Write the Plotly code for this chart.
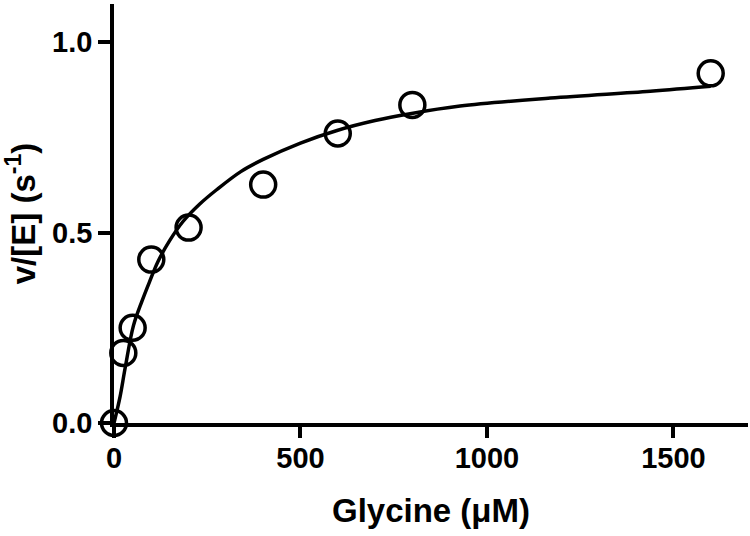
import plotly.graph_objects as go

# Measured data (Glycine concentration in µM, v/[E] in s^-1)
glycine_uM = [0, 25, 50, 100, 200, 400, 600, 800, 1600]
rate = [0.0, 0.184, 0.25, 0.429, 0.513, 0.626, 0.76, 0.835, 0.918]

# Fitted curve
fit_x = [0, 16, 30, 52, 75, 95, 118, 150, 185, 230, 276, 340, 400, 500, 598, 700, 794, 928, 1170, 1438, 1600]
fit_y = [0.0, 0.068, 0.145, 0.255, 0.32, 0.37, 0.424, 0.48, 0.529, 0.575, 0.613, 0.66, 0.692, 0.735, 0.768, 0.794, 0.812, 0.832, 0.853, 0.871, 0.884]

x_ticks = [0, 500, 1000, 1500]
y_ticks = [0.0, 0.5, 1.0]
y_tick_text = ["0.0", "0.5", "1.0"]

FONT = "Liberation Sans, Arial, Helvetica, sans-serif"

fig = go.Figure()
fig.add_trace(go.Scatter(
    x=fit_x, y=fit_y, mode="lines",
    line=dict(color="black", width=3.5, shape="spline", smoothing=1.0),
    showlegend=False, hoverinfo="skip", cliponaxis=False,
))
fig.add_trace(go.Scatter(
    x=glycine_uM, y=rate, mode="markers",
    marker=dict(symbol="circle-open", size=25, color="black", line=dict(width=3.5, color="black")),
    showlegend=False, cliponaxis=False,
))

fig.update_layout(
    width=750, height=536,
    margin=dict(l=114, r=2, t=4, b=113),
    paper_bgcolor="white", plot_bgcolor="white",
    font=dict(family=FONT, color="black", size=29, weight="bold"),
    xaxis=dict(
        range=[0, 1700], tickvals=x_ticks, ticks="outside", ticklen=11, tickwidth=3.5,
        tickcolor="black", showline=True, linecolor="black", linewidth=3.5,
        showgrid=False, zeroline=False, automargin=False,
        tickfont=dict(family=FONT, size=29, weight="bold"),
        ticklabelstandoff=-5,
        title=dict(text="Glycine (μM)", font=dict(family=FONT, size=33, weight="bold"), standoff=27),
    ),
    yaxis=dict(
        range=[0, 1.1], tickvals=y_ticks, ticktext=y_tick_text, ticks="outside", ticklen=12, tickwidth=3.5,
        tickcolor="black", showline=True, linecolor="black", linewidth=3.5,
        showgrid=False, zeroline=False, automargin=False,
        tickfont=dict(family=FONT, size=29, weight="bold"),
        title=dict(text="v/[E] (s<sup>-1</sup>)", font=dict(family=FONT, size=33, weight="bold"), standoff=12),
    ),
)

fig.write_html(
    "out.html",
    config={"displayModeBar": False},
    post_script="document.body.style.margin='0';document.body.style.overflow='hidden';",
)
